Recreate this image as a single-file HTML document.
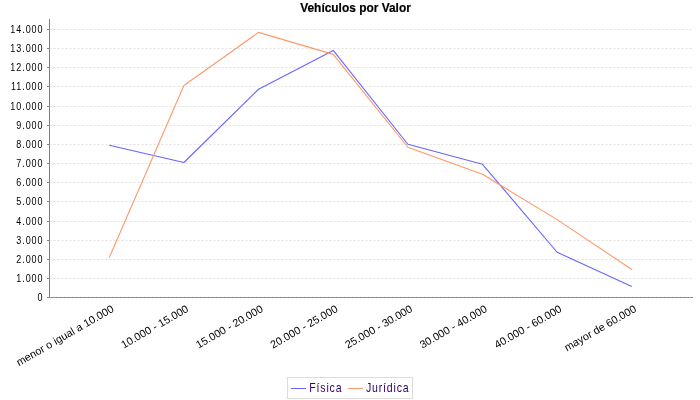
<!DOCTYPE html>
<html><head><meta charset="utf-8"><style>
html,body{margin:0;padding:0;background:#fff;width:700px;height:400px;overflow:hidden}
svg{display:block;will-change:transform}
text{font-family:"Liberation Sans",sans-serif}
.yl{font-size:11px;fill:#000}
.xl{font-size:10.8px;fill:#000}
.tt{font-size:13px;font-weight:bold;fill:#000;stroke:#000;stroke-width:0.2px}
.lg{font-size:12px;fill:#330066}
</style></head><body>
<svg width="700" height="400" viewBox="0 0 700 400">
<rect x="0" y="0" width="700" height="400" fill="#fff"/>
<line x1="49.5" y1="19" x2="49.5" y2="298" stroke="#808080" stroke-width="1"/>
<line x1="49" y1="297.5" x2="693" y2="297.5" stroke="#808080" stroke-width="1"/>
<line x1="47" y1="297.5" x2="49" y2="297.5" stroke="#808080" stroke-width="1"/>
<text transform="translate(43.5,300.5) scale(0.82,1)" letter-spacing="1.15" text-anchor="end" class="yl">0</text>
<line x1="47" y1="278.5" x2="49" y2="278.5" stroke="#808080" stroke-width="1"/>
<text transform="translate(43.5,281.5) scale(0.82,1)" letter-spacing="1.15" text-anchor="end" class="yl">1.000</text>
<line x1="47" y1="259.5" x2="49" y2="259.5" stroke="#808080" stroke-width="1"/>
<text transform="translate(43.5,262.5) scale(0.82,1)" letter-spacing="1.15" text-anchor="end" class="yl">2.000</text>
<line x1="47" y1="240.5" x2="49" y2="240.5" stroke="#808080" stroke-width="1"/>
<text transform="translate(43.5,243.5) scale(0.82,1)" letter-spacing="1.15" text-anchor="end" class="yl">3.000</text>
<line x1="47" y1="221.5" x2="49" y2="221.5" stroke="#808080" stroke-width="1"/>
<text transform="translate(43.5,224.5) scale(0.82,1)" letter-spacing="1.15" text-anchor="end" class="yl">4.000</text>
<line x1="47" y1="201.5" x2="49" y2="201.5" stroke="#808080" stroke-width="1"/>
<text transform="translate(43.5,204.5) scale(0.82,1)" letter-spacing="1.15" text-anchor="end" class="yl">5.000</text>
<line x1="47" y1="182.5" x2="49" y2="182.5" stroke="#808080" stroke-width="1"/>
<text transform="translate(43.5,185.5) scale(0.82,1)" letter-spacing="1.15" text-anchor="end" class="yl">6.000</text>
<line x1="47" y1="163.5" x2="49" y2="163.5" stroke="#808080" stroke-width="1"/>
<text transform="translate(43.5,166.5) scale(0.82,1)" letter-spacing="1.15" text-anchor="end" class="yl">7.000</text>
<line x1="47" y1="144.5" x2="49" y2="144.5" stroke="#808080" stroke-width="1"/>
<text transform="translate(43.5,147.5) scale(0.82,1)" letter-spacing="1.15" text-anchor="end" class="yl">8.000</text>
<line x1="47" y1="125.5" x2="49" y2="125.5" stroke="#808080" stroke-width="1"/>
<text transform="translate(43.5,128.5) scale(0.82,1)" letter-spacing="1.15" text-anchor="end" class="yl">9.000</text>
<line x1="47" y1="106.5" x2="49" y2="106.5" stroke="#808080" stroke-width="1"/>
<text transform="translate(43.5,109.5) scale(0.82,1)" letter-spacing="1.15" text-anchor="end" class="yl">10.000</text>
<line x1="47" y1="86.5" x2="49" y2="86.5" stroke="#808080" stroke-width="1"/>
<text transform="translate(43.5,89.5) scale(0.82,1)" letter-spacing="1.15" text-anchor="end" class="yl">11.000</text>
<line x1="47" y1="67.5" x2="49" y2="67.5" stroke="#808080" stroke-width="1"/>
<text transform="translate(43.5,70.5) scale(0.82,1)" letter-spacing="1.15" text-anchor="end" class="yl">12.000</text>
<line x1="47" y1="48.5" x2="49" y2="48.5" stroke="#808080" stroke-width="1"/>
<text transform="translate(43.5,51.5) scale(0.82,1)" letter-spacing="1.15" text-anchor="end" class="yl">13.000</text>
<line x1="47" y1="29.5" x2="49" y2="29.5" stroke="#808080" stroke-width="1"/>
<text transform="translate(43.5,32.5) scale(0.82,1)" letter-spacing="1.15" text-anchor="end" class="yl">14.000</text>
<line x1="49.5" y1="297.5" x2="692.5" y2="297.5" stroke="#c0c0c0" stroke-width="0.5" stroke-dasharray="2 2"/>
<line x1="49.5" y1="278.5" x2="692.5" y2="278.5" stroke="#c0c0c0" stroke-width="0.5" stroke-dasharray="2 2"/>
<line x1="49.5" y1="259.5" x2="692.5" y2="259.5" stroke="#c0c0c0" stroke-width="0.5" stroke-dasharray="2 2"/>
<line x1="49.5" y1="240.5" x2="692.5" y2="240.5" stroke="#c0c0c0" stroke-width="0.5" stroke-dasharray="2 2"/>
<line x1="49.5" y1="221.5" x2="692.5" y2="221.5" stroke="#c0c0c0" stroke-width="0.5" stroke-dasharray="2 2"/>
<line x1="49.5" y1="201.5" x2="692.5" y2="201.5" stroke="#c0c0c0" stroke-width="0.5" stroke-dasharray="2 2"/>
<line x1="49.5" y1="182.5" x2="692.5" y2="182.5" stroke="#c0c0c0" stroke-width="0.5" stroke-dasharray="2 2"/>
<line x1="49.5" y1="163.5" x2="692.5" y2="163.5" stroke="#c0c0c0" stroke-width="0.5" stroke-dasharray="2 2"/>
<line x1="49.5" y1="144.5" x2="692.5" y2="144.5" stroke="#c0c0c0" stroke-width="0.5" stroke-dasharray="2 2"/>
<line x1="49.5" y1="125.5" x2="692.5" y2="125.5" stroke="#c0c0c0" stroke-width="0.5" stroke-dasharray="2 2"/>
<line x1="49.5" y1="106.5" x2="692.5" y2="106.5" stroke="#c0c0c0" stroke-width="0.5" stroke-dasharray="2 2"/>
<line x1="49.5" y1="86.5" x2="692.5" y2="86.5" stroke="#c0c0c0" stroke-width="0.5" stroke-dasharray="2 2"/>
<line x1="49.5" y1="67.5" x2="692.5" y2="67.5" stroke="#c0c0c0" stroke-width="0.5" stroke-dasharray="2 2"/>
<line x1="49.5" y1="48.5" x2="692.5" y2="48.5" stroke="#c0c0c0" stroke-width="0.5" stroke-dasharray="2 2"/>
<line x1="49.5" y1="29.5" x2="692.5" y2="29.5" stroke="#c0c0c0" stroke-width="0.5" stroke-dasharray="2 2"/>
<polyline points="109.25,145.30 183.90,162.50 258.55,89.25 333.20,50.40 407.85,144.25 482.50,164.30 557.15,252.25 631.80,286.50" fill="none" stroke="#6666ff" stroke-width="1.1" stroke-linejoin="bevel"/>
<polyline points="109.25,257.60 183.90,85.50 258.55,32.40 333.20,54.35 407.85,147.25 482.50,174.30 557.15,219.60 631.80,269.50" fill="none" stroke="#ff9966" stroke-width="1.1" stroke-linejoin="bevel"/>
<text transform="translate(114.65,311) rotate(-30)" text-anchor="end" class="xl">menor o igual a 10.000</text>
<text transform="translate(189.30,311) rotate(-30)" text-anchor="end" class="xl">10.000 - 15.000</text>
<text transform="translate(263.95,311) rotate(-30)" text-anchor="end" class="xl">15.000 - 20.000</text>
<text transform="translate(338.60,311) rotate(-30)" text-anchor="end" class="xl">20.000 - 25.000</text>
<text transform="translate(413.25,311) rotate(-30)" text-anchor="end" class="xl">25.000 - 30.000</text>
<text transform="translate(487.90,311) rotate(-30)" text-anchor="end" class="xl">30.000 - 40.000</text>
<text transform="translate(562.55,311) rotate(-30)" text-anchor="end" class="xl">40.000 - 60.000</text>
<text transform="translate(637.20,311) rotate(-30)" text-anchor="end" class="xl">mayor de 60.000</text>
<text transform="translate(355.5,12) scale(0.917,1)" text-anchor="middle" class="tt">Vehículos por Valor</text>
<rect x="287.5" y="377.5" width="125" height="21" fill="#fff" stroke="#dcdcdc" stroke-width="1"/>
<line x1="291" y1="388.5" x2="306" y2="388.5" stroke="#6666ff" stroke-width="1"/>
<text transform="translate(309.3,392) scale(0.88,1)" letter-spacing="0.93" class="lg">Física</text>
<line x1="348" y1="388.5" x2="363" y2="388.5" stroke="#ff9966" stroke-width="1"/>
<text transform="translate(366,392) scale(0.88,1)" letter-spacing="0.93" class="lg">Jurídica</text>
</svg>
</body></html>
